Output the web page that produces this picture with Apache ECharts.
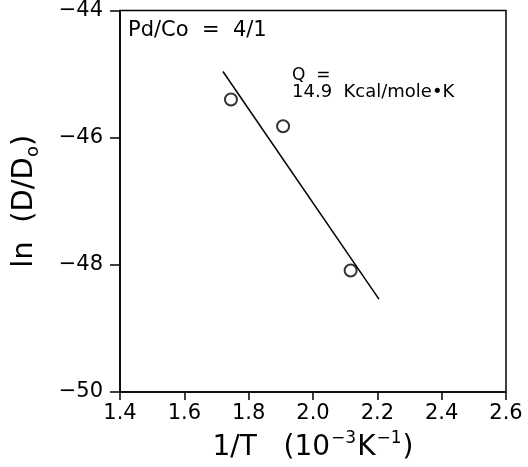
<!DOCTYPE html>
<html>
<head>
<meta charset="utf-8">
<script src="https://cdn.jsdelivr.net/npm/echarts@6/dist/echarts.min.js"></script>
<style>
html,body{margin:0;padding:0;background:#fff;}
#chart{width:528px;height:467px;}
</style>
</head>
<body>
<div id="chart"></div>
<script>
// Measured points: 1/T (10^-3 K^-1) vs ln(D/Do)
const pointX = [1.745, 1.907, 2.117];
const pointY = [-45.40, -45.82, -48.09];
// Fitted line endpoints
const fitX = [1.72, 2.205];
const fitY = [-44.96, -48.54];
// Axis ranges / ticks
const xMin = 1.4, xMax = 2.6, xStep = 0.2;
const yMin = -50, yMax = -44, yStep = 2;
// Annotation texts
const noteSample = 'Pd/Co  =  4/1';
const noteQ1 = 'Q  =';
const noteQ2 = '14.9  Kcal/mole•K';

const FONT = 'DejaVu Sans';
const chart = echarts.init(document.getElementById('chart'));
const option = {
  backgroundColor: '#fff',
  animation: false,
  grid: {
    left: 120, right: 22, top: 10, bottom: 75,
    show: true, borderColor: '#000', borderWidth: 1.5, backgroundColor: 'transparent'
  },
  xAxis: {
    type: 'value', min: xMin, max: xMax, interval: xStep,
    axisLine: { show: true, lineStyle: { color: '#000', width: 1.5 } },
    axisTick: { show: true, inside: false, length: 8, lineStyle: { color: '#000', width: 1.5 } },
    splitLine: { show: false },
    axisLabel: { color: '#000', fontFamily: FONT, fontSize: 21, margin: 11,
      formatter: v => v.toFixed(1) },
    name: '{a|1/T   (10}{s|−3}{a|K}{s|−1}{a|)}',
    nameLocation: 'middle', nameGap: 38,
    nameTextStyle: {
      color: '#000', fontFamily: FONT,
      rich: {
        a: { fontFamily: FONT, fontSize: 28, color: '#000', lineHeight: 32, verticalAlign: 'bottom' },
        s: { fontFamily: FONT, fontSize: 17, color: '#000', lineHeight: 32, verticalAlign: 'top', padding: [0, 1, 0, 1] }
      }
    }
  },
  yAxis: {
    type: 'value', min: yMin, max: yMax, interval: yStep,
    axisLine: { show: true, lineStyle: { color: '#000', width: 1.5 } },
    axisTick: { show: true, inside: false, length: 10, lineStyle: { color: '#000', width: 1.5 } },
    splitLine: { show: false },
    axisLabel: { color: '#000', fontFamily: FONT, fontSize: 21, margin: 17,
      formatter: v => String(v).replace('-', '−') },
    name: '{a|ln  (D/D}{o|o}{a|)}',
    nameLocation: 'middle', nameGap: 78, nameRotate: 90,
    nameTextStyle: {
      color: '#000', fontFamily: FONT,
      rich: {
        a: { fontFamily: FONT, fontSize: 29, color: '#000', lineHeight: 32, verticalAlign: 'top' },
        o: { fontFamily: FONT, fontSize: 18, color: '#000', lineHeight: 32, verticalAlign: 'bottom' }
      }
    }
  },
  graphic: [
    { type: 'text', left: 128, top: 20, style: { text: noteSample, font: '21px "DejaVu Sans"', fill: '#000' } },
    { type: 'text', left: 292, top: 67, style: { text: noteQ1, font: '17px "DejaVu Sans"', fill: '#000' } },
    { type: 'text', left: 292, top: 83, style: { text: noteQ2, font: '18px "DejaVu Sans"', fill: '#000' } }
  ],
  series: [
    {
      type: 'line',
      data: fitX.map((x, i) => [x, fitY[i]]),
      symbol: 'none',
      lineStyle: { color: '#000', width: 1.5 },
      z: 2
    },
    {
      type: 'scatter',
      data: pointX.map((x, i) => [x, pointY[i]]),
      symbol: 'emptyCircle',
      symbolSize: 12,
      itemStyle: { color: '#000', borderColor: '#000', borderWidth: 1.5 },
      z: 3
    }
  ]
};
chart.setOption(option);
</script>
</body>
</html>
